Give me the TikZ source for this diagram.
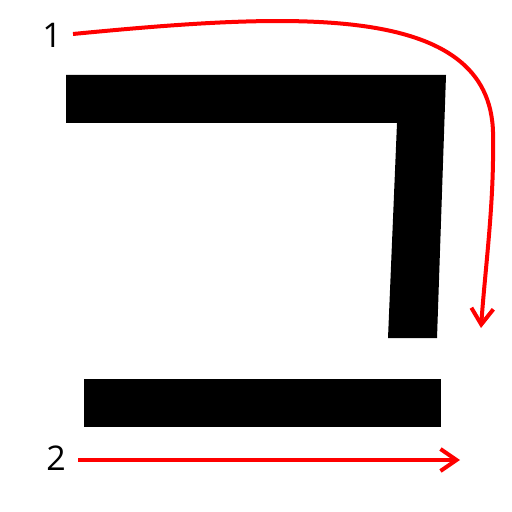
\documentclass[tikz,border=0pt]{standalone}
\usepackage{fontspec}
\setmainfont{Open Sans}
\usetikzlibrary{arrows.meta}
\begin{document}
\begin{tikzpicture}[x=0.5pt,y=-0.5pt,
  stroke/.style={fill=black,draw=none},
  order/.style={draw=red,line width=2pt,-{Straight Barb[length=8pt,width=11pt,line width=2pt]}},
  num/.style={font=\fontsize{17}{17}\selectfont,inner sep=0pt}]
\useasboundingbox (0,0) rectangle (512,512);
\fill[white] (0,0) rectangle (512,512);
\fill[stroke] (66,75) -- (446,75) -- (437,338) -- (388,338) -- (397,123) -- (66,123) -- cycle;
\fill[stroke] (84,379) rectangle (441,427);
\node[num] (n1) at (52,35) {1};
\node[num] (n2) at (56,458) {2};
\coordinate (s1) at (73,34);
\coordinate (e1) at (481,328);
\coordinate (s2) at (78,460);
\coordinate (e2) at (460,460);
\draw[order] (s1) .. controls (300,12) and (497,2) .. (493,140) .. controls (494,205) and (485,270) .. (e1);
\draw[order] (s2) -- (e2);
\end{tikzpicture}
\end{document}
